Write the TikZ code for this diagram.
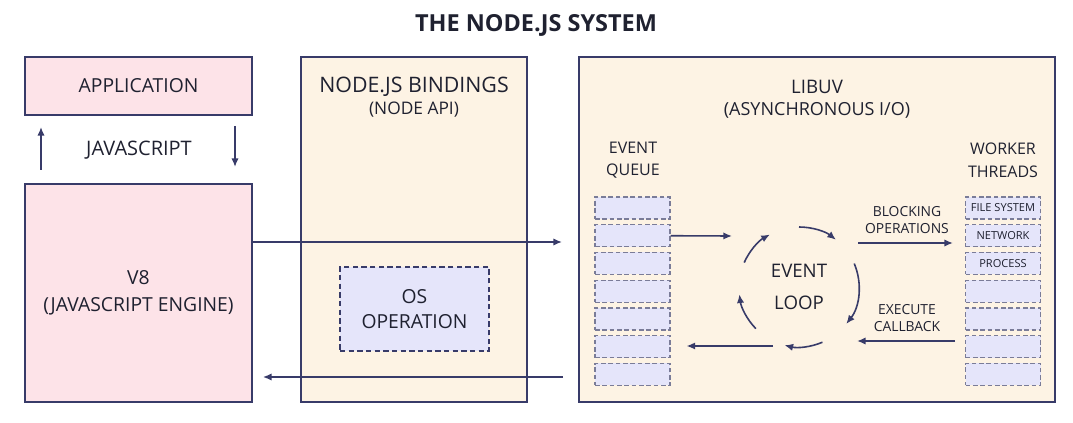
\documentclass[tikz,border=0pt]{standalone}
\usepackage{fontspec}
\setmainfont{Open Sans}
\usepackage{tikz}
\usetikzlibrary{calc,positioning,arrows.meta}

\definecolor{navy}{HTML}{383B69}
\definecolor{pinkfill}{HTML}{FDE3E8}
\definecolor{creamfill}{HTML}{FDF3E4}
\definecolor{lavfill}{HTML}{E5E5FA}
\definecolor{dashgray}{HTML}{7A7C98}
\definecolor{ink}{HTML}{1F2130}

\begin{document}
\begin{tikzpicture}[x=0.75pt,y=-0.75pt,
    font=\fontsize{14.5}{18}\selectfont, text=ink,
    pinkbox/.style={draw=navy, line width=1.3pt, fill=pinkfill, align=center, inner sep=0pt},
    creambox/.style={draw=navy, line width=1.3pt, fill=creamfill, inner sep=0pt},
    osbox/.style={draw=navy, line width=0.9pt, dash pattern=on 4pt off 2.5pt, fill=lavfill, align=center, inner sep=0pt},
    cell/.style={draw=dashgray, line width=0.8pt, dash pattern=on 3.5pt off 2pt, fill=lavfill,
      minimum width=56.25pt, minimum height=16.5pt, inner sep=0pt, font=\fontsize{8.3}{10}\selectfont},
    arr/.style={draw=navy, line width=1.2pt, -{Latex[length=6.5pt,width=5.5pt]}},
    lbl/.style={align=center, inner sep=0pt}]

  \useasboundingbox (0,0) rectangle (1073,423);

  % title
  \node[font=\fontsize{17.6}{21}\selectfont\bfseries] (title) at (536,25) {THE NODE.JS SYSTEM};

  % left column
  \node[pinkbox, minimum width=170.25pt, minimum height=43.5pt] (app) at (138.5,86) {APPLICATION};
  \node[pinkbox, minimum width=170.25pt, minimum height=163.5pt] (v8) at (138.5,293)
    {V8\\[2pt](JAVASCRIPT ENGINE)};
  \node[lbl, font=\fontsize{15}{18}\selectfont] (js) at (139,150) {JAVASCRIPT};
  \coordinate (upfrom) at (41,170);
  \coordinate (upto) at (41,127);
  \coordinate (dnfrom) at (235,126);
  \coordinate (dnto) at (235,167);
  \draw[arr] (upfrom) -- (upto);
  \draw[arr] (dnfrom) -- (dnto);

  % node.js bindings
  \node[creambox, minimum width=169.5pt, minimum height=258.75pt] (bind) at (414,229.5) {};
  \node[lbl, font=\fontsize{16}{19}\selectfont] (bindtitle) at (414,87) {NODE.JS BINDINGS};
  \node[lbl, font=\fontsize{13}{16}\selectfont] (bindsub) at (414,110) {(NODE API)};
  \node[osbox, minimum width=111.75pt, minimum height=63pt] (osop) at (414.5,309)
    {OS\\[1pt]OPERATION};

  % libuv
  \node[creambox, minimum width=357pt, minimum height=258.75pt] (libuv) at (817,229.5) {};
  \node[lbl, font=\fontsize{14}{17}\selectfont] (libuvtitle) at (817,87) {LIBUV};
  \node[lbl, font=\fontsize{13.5}{17}\selectfont] (libuvsub) at (817,110) {(ASYNCHRONOUS I/O)};

  \node[lbl, font=\fontsize{12}{17}\selectfont] (qlabel) at (633,160) {EVENT\\QUEUE};
  \node[lbl, font=\fontsize{12}{17}\selectfont] (wlabel) at (1003,160) {WORKER\\THREADS};

  \foreach \i in {1,...,7} {
    \node[cell] (q\i) at (632.5,{208+27.75*(\i-1)}) {};
  }
  \node[cell] (w1) at (1003,208) {FILE SYSTEM};
  \node[cell] (w2) at (1003,235.75) {NETWORK};
  \node[cell] (w3) at (1003,263.5) {PROCESS};
  \foreach \i in {4,...,7} {
    \node[cell] (w\i) at (1003,{208+27.75*(\i-1)}) {};
  }

  % event loop
  \node[lbl, font=\fontsize{14}{24}\selectfont] (loop) at (799,287) {EVENT\\LOOP};
  \foreach \a/\b in {156/119, 90/52, 23/-38, -67/-104, -136/-173} {
    \draw[arr] ([shift={(\a:45pt)}]loop.center) arc[start angle=\a, end angle=\b, radius=45pt];
  }

  \node[lbl, font=\fontsize{10.4}{13}\selectfont] (block) at (907,220) {BLOCKING\\OPERATIONS};
  \node[lbl, font=\fontsize{10.4}{13}\selectfont] (exec) at (907,318) {EXECUTE\\CALLBACK};

  \coordinate (qout) at (732,236);
  \coordinate (qin) at (773,346);
  \coordinate (bfrom) at (858,243);
  \coordinate (efrom) at (955,341);
  \coordinate (eto) at (857,341);
  \draw[arr] (q2.east) -- (qout);
  \draw[arr] (qin) -- ([xshift=12pt]q6.east |- qin);
  \draw[arr] (bfrom) -- ([xshift=-9pt]w2.west |- bfrom);
  \draw[arr] (efrom) -- (eto);

  % between the systems
  \coordinate (toLibuv) at (562,242);
  \coordinate (fromLibuv) at (563,377);
  \draw[arr] (v8.east |- toLibuv) -- (toLibuv);
  \draw[arr] (fromLibuv) -- ([xshift=7.5pt]v8.east |- fromLibuv);
\end{tikzpicture}
\end{document}
